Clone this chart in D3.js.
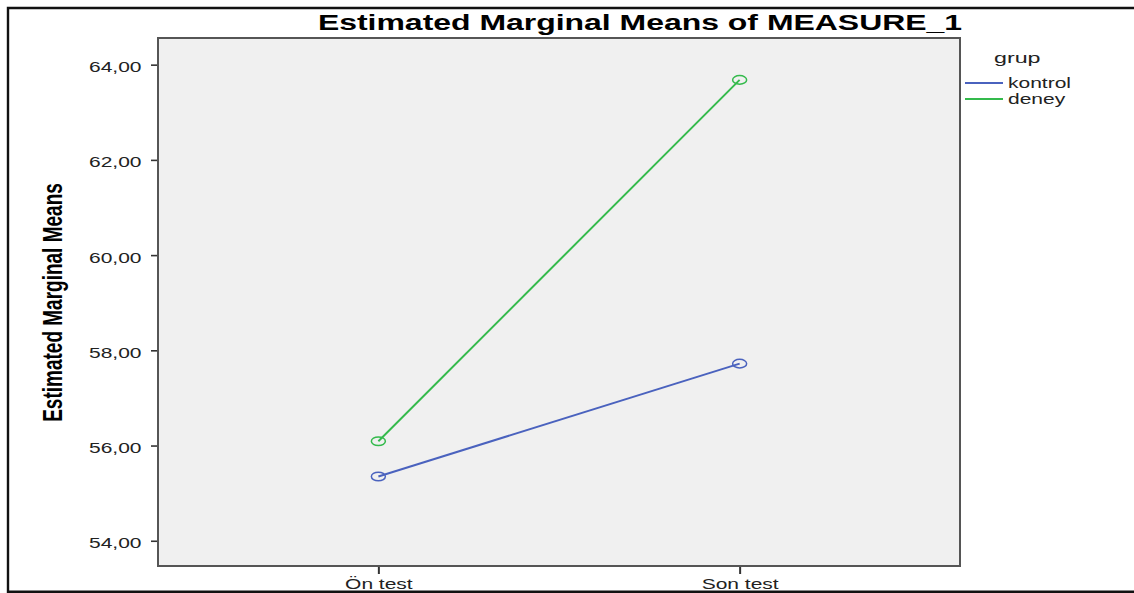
<!DOCTYPE html>
<html>
  <head>
    <meta charset="utf-8" />
    <title>Estimated Marginal Means of MEASURE_1</title>
    <script src="https://d3js.org/d3.v7.min.js"></script>
    <style>
      body {
        margin: 0;
        background: #fff;
      }
      svg {
        font-family: Arial, "Liberation Sans", sans-serif;
        display: block;
      }
    </style>
  </head>
  <body>
    <div id="chart"></div>
    <script>
      // data
      const times = ["Ön test", "Son test"];
      const groups = ["kontrol", "deney"];
      const kontrolMeans = [55.35, 57.72];
      const deneyMeans = [56.09, 63.68];
      const yTicks = [54, 56, 58, 60, 62, 64];
      const colors = ["#4A62BE", "#34BA4C"];

      const series = [
        { name: groups[0], values: kontrolMeans, color: colors[0] },
        { name: groups[1], values: deneyMeans, color: colors[1] },
      ];

      const W = 1134;
      const H = 593;
      // the original picture is stretched sideways, so text is too
      const SX = 1.5;

      // plot box
      const plot = { left: 158, top: 38, right: 960, bottom: 566 };

      const svg = d3
        .select("#chart")
        .append("svg")
        .attr("width", W)
        .attr("height", H);

      //outer frame (no right side)
      svg
        .append("path")
        .attr("d", `M${W},8 H8 V591.8 H${W}`)
        .attr("fill", "none")
        .attr("stroke", "#111")
        .attr("stroke-width", 2.4);

      const x = d3
        .scalePoint()
        .domain(times)
        .range([plot.left, plot.right])
        .padding(0.61);

      const y = d3
        .scaleLinear()
        .domain([53.47, 64.56])
        .range([plot.bottom, plot.top]);

      //plot background
      svg
        .append("rect")
        .attr("x", plot.left)
        .attr("y", plot.top)
        .attr("width", plot.right - plot.left)
        .attr("height", plot.bottom - plot.top)
        .attr("fill", "#F0F0F0");

      //y axis
      const fmt = (d) => d.toFixed(2).replace(".", ",");
      const yAxis = svg
        .append("g")
        .attr("transform", `translate(${plot.left},0)`)
        .call(
          d3.axisLeft(y).tickValues(yTicks).tickFormat(fmt).tickSize(7).tickPadding(4)
        );
      yAxis.select(".domain").remove();
      yAxis.selectAll(".tick line").attr("stroke", "#333").attr("stroke-width", 1.6);
      yAxis
        .selectAll(".tick text")
        .attr("font-size", 14)
        .attr("fill", "#222")
        .attr("dy", "0.5em")
        .attr("transform", `scale(${SX},1)`);

      //x axis
      const xAxis = svg
        .append("g")
        .attr("transform", `translate(0,${plot.bottom})`)
        .call(d3.axisBottom(x).tickSize(8));
      xAxis.select(".domain").remove();
      xAxis.selectAll(".tick line").attr("stroke", "#333").attr("stroke-width", 2);
      xAxis
        .selectAll(".tick text")
        .attr("font-size", 14)
        .attr("fill", "#222")
        .attr("y", 23)
        .attr("dy", 0)
        .attr("transform", `scale(${SX},1)`);

      //plot border on top of the background
      svg
        .append("rect")
        .attr("x", plot.left)
        .attr("y", plot.top)
        .attr("width", plot.right - plot.left)
        .attr("height", plot.bottom - plot.top)
        .attr("fill", "none")
        .attr("stroke", "#555")
        .attr("stroke-width", 2);

      //lines
      const line = d3
        .line()
        .x((d, i) => x(times[i]))
        .y((d) => y(d));

      svg
        .selectAll(".series")
        .data(series)
        .join("path")
        .attr("class", "series")
        .attr("d", (d) => line(d.values))
        .attr("fill", "none")
        .attr("stroke", (d) => d.color)
        .attr("stroke-width", 2);

      //markers (circles look like ellipses in the stretched picture)
      series.forEach((s) => {
        svg
          .selectAll(null)
          .data(s.values)
          .join("ellipse")
          .attr("cx", (d, i) => x(times[i]))
          .attr("cy", (d) => y(d))
          .attr("rx", 7)
          .attr("ry", 4.3)
          .attr("fill", "none")
          .attr("stroke", s.color)
          .attr("stroke-width", 1.5);
      });

      //title
      svg
        .append("text")
        .attr("transform", `translate(640,30) scale(${SX},1)`)
        .attr("text-anchor", "middle")
        .attr("font-size", 21.3)
        .attr("font-weight", "bold")
        .attr("fill", "#000")
        .text("Estimated Marginal Means of MEASURE_1");

      //y axis title
      svg
        .append("text")
        .attr("transform", `translate(62,302.5) rotate(-90) scale(1,${SX})`)
        .attr("text-anchor", "middle")
        .attr("font-size", 19)
        .attr("font-weight", "bold")
        .attr("fill", "#000")
        .text("Estimated Marginal Means");

      //legend
      svg
        .append("text")
        .attr("transform", `translate(994,63) scale(${SX},1)`)
        .attr("font-size", 15.5)
        .attr("fill", "#222")
        .text("grup");

      const legend = svg
        .selectAll(".legend")
        .data(series)
        .join("g")
        .attr("class", "legend")
        .attr("transform", (d, i) => `translate(965,${83 + i * 16})`);

      legend
        .append("line")
        .attr("x1", 0)
        .attr("x2", 38)
        .attr("stroke", (d) => d.color)
        .attr("stroke-width", 2);

      legend
        .append("text")
        .attr("transform", `translate(43,5) scale(${SX},1)`)
        .attr("font-size", 14)
        .attr("fill", "#222")
        .text((d) => d.name);
    </script>
  </body>
</html>
